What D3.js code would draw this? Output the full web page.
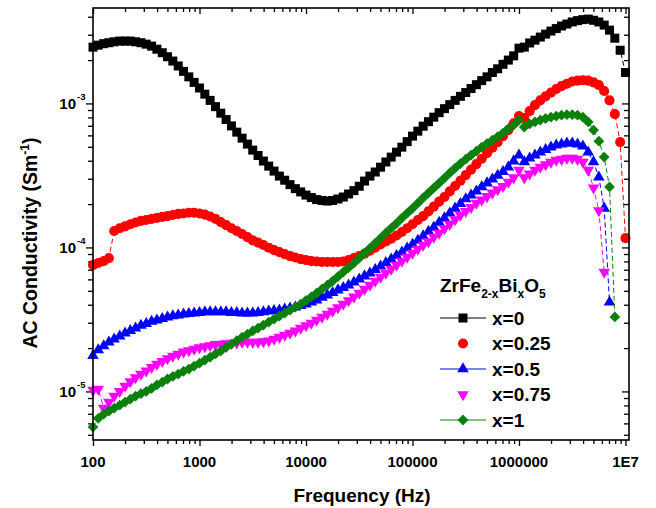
<!DOCTYPE html>
<html><head><meta charset="utf-8">
<script src="https://cdn.jsdelivr.net/npm/d3@7"></script>
<style>
body{margin:0;background:#fff}
svg{display:block}
text{font-family:Arial,"Liberation Sans",sans-serif;font-weight:bold;fill:#000}
</style>
</head><body>
<svg id="chart" width="656" height="508"></svg>
<script>
// ---------------- data ----------------
const frequencies = [100,112,126,141,158,178,200,224,251,282,316,355,398,447,501,562,631,708,794,891,
1000,1122,1259,1413,1585,1778,1995,2239,2512,2818,3162,3548,3981,4467,5012,5623,6310,7079,7943,8913,
10000,11220,12589,14125,15849,17783,19953,22387,25119,28184,31623,35481,39811,44668,50119,56234,63096,70795,79433,89125,
100000,112202,125893,141254,158489,177828,199526,223872,251189,281838,316228,354813,398107,446684,501187,562341,630957,707946,794328,891251,
1000000,1122018,1258925,1412538,1584893,1778279,1995262,2238721,2511886,2818383,3162278,3548134,3981072,4466836,5011872,5623413,6309573,7079458,7943282,8912509,
10000000];

const sigmaX0 = [2.46e-3,2.54e-3,2.60e-3,2.64e-3,2.68e-3,2.71e-3,2.71e-3,2.71e-3,2.68e-3,2.64e-3,
2.58e-3,2.50e-3,2.38e-3,2.25e-3,2.11e-3,1.97e-3,1.82e-3,1.67e-3,1.53e-3,1.40e-3,
1.28e-3,1.16e-3,1.05e-3,9.5e-4,8.56e-4,7.73e-4,6.98e-4,6.32e-4,5.74e-4,5.22e-4,
4.74e-4,4.35e-4,3.98e-4,3.67e-4,3.39e-4,3.13e-4,2.93e-4,2.73e-4,2.56e-4,2.43e-4,
2.31e-4,2.22e-4,2.15e-4,2.12e-4,2.10e-4,2.12e-4,2.17e-4,2.24e-4,2.35e-4,2.48e-4,
2.66e-4,2.89e-4,3.13e-4,3.34e-4,3.61e-4,3.92e-4,4.24e-4,4.59e-4,4.97e-4,5.43e-4,
5.93e-4,6.42e-4,6.95e-4,7.47e-4,8.03e-4,8.63e-4,9.20e-4,9.81e-4,1.05e-3,1.12e-3,
1.19e-3,1.27e-3,1.35e-3,1.44e-3,1.53e-3,1.64e-3,1.74e-3,1.87e-3,2.00e-3,2.14e-3,
2.42e-3,2.46e-3,2.63e-3,2.75e-3,2.89e-3,3.03e-3,3.18e-3,3.31e-3,3.45e-3,3.56e-3,
3.68e-3,3.76e-3,3.82e-3,3.85e-3,3.78e-3,3.68e-3,3.50e-3,3.23e-3,2.84e-3,2.34e-3,
1.64e-3];

const sigmaX025 = [7.54e-5,7.79e-5,8.04e-5,8.43e-5,1.30e-4,1.36e-4,1.40e-4,1.45e-4,1.49e-4,1.53e-4,
1.55e-4,1.58e-4,1.60e-4,1.63e-4,1.65e-4,1.68e-4,1.71e-4,1.72e-4,1.74e-4,1.74e-4,
1.72e-4,1.69e-4,1.64e-4,1.58e-4,1.50e-4,1.43e-4,1.36e-4,1.30e-4,1.24e-4,1.18e-4,
1.12e-4,1.08e-4,1.04e-4,9.96e-5,9.58e-5,9.28e-5,8.99e-5,8.71e-5,8.51e-5,8.30e-5,
8.17e-5,8.04e-5,7.98e-5,7.92e-5,7.92e-5,7.92e-5,7.92e-5,7.98e-5,8.17e-5,8.43e-5,
8.71e-5,9.06e-5,9.51e-5,9.96e-5,1.05e-4,1.10e-4,1.15e-4,1.21e-4,1.28e-4,1.36e-4,
1.45e-4,1.55e-4,1.65e-4,1.78e-4,1.92e-4,2.08e-4,2.24e-4,2.45e-4,2.67e-4,2.91e-4,
3.18e-4,3.47e-4,3.79e-4,4.13e-4,4.51e-4,4.93e-4,5.39e-4,5.93e-4,6.53e-4,7.29e-4,
8.17e-4,7.91e-4,8.84e-4,9.73e-4,1.05e-3,1.12e-3,1.19e-3,1.26e-3,1.32e-3,1.37e-3,
1.42e-3,1.44e-3,1.45e-3,1.44e-3,1.40e-3,1.34e-3,1.22e-3,1.05e-3,8.43e-4,5.39e-4,
1.16e-4];

const sigmaX05 = [1.77e-5,1.94e-5,2.07e-5,2.20e-5,2.31e-5,2.42e-5,2.54e-5,2.64e-5,2.75e-5,2.87e-5,
2.96e-5,3.06e-5,3.13e-5,3.20e-5,3.28e-5,3.34e-5,3.39e-5,3.44e-5,3.47e-5,3.50e-5,
3.53e-5,3.56e-5,3.56e-5,3.56e-5,3.56e-5,3.56e-5,3.53e-5,3.53e-5,3.50e-5,3.50e-5,
3.50e-5,3.53e-5,3.56e-5,3.61e-5,3.64e-5,3.67e-5,3.73e-5,3.79e-5,3.85e-5,3.94e-5,
4.04e-5,4.17e-5,4.31e-5,4.49e-5,4.67e-5,4.86e-5,5.06e-5,5.26e-5,5.47e-5,5.74e-5,
6.02e-5,6.33e-5,6.63e-5,7.01e-5,7.42e-5,7.85e-5,8.30e-5,8.78e-5,9.28e-5,9.88e-5,
1.05e-4,1.12e-4,1.20e-4,1.29e-4,1.38e-4,1.49e-4,1.60e-4,1.73e-4,1.87e-4,2.01e-4,
2.17e-4,2.31e-4,2.46e-4,2.63e-4,2.80e-4,2.98e-4,3.16e-4,3.36e-4,3.61e-4,3.98e-4,
4.38e-4,3.92e-4,4.17e-4,4.38e-4,4.59e-4,4.78e-4,4.97e-4,5.13e-4,5.22e-4,5.30e-4,
5.30e-4,5.22e-4,5.05e-4,4.59e-4,3.92e-4,3.08e-4,1.87e-4,4.17e-5];

const sigmaX075 = [1.02e-5,1.04e-5,7.65e-6,8.43e-6,9.27e-6,1.00e-5,1.09e-5,1.17e-5,1.25e-5,1.32e-5,
1.39e-5,1.47e-5,1.55e-5,1.62e-5,1.69e-5,1.76e-5,1.82e-5,1.88e-5,1.92e-5,1.97e-5,
2.02e-5,2.05e-5,2.08e-5,2.12e-5,2.13e-5,2.15e-5,2.17e-5,2.18e-5,2.20e-5,2.20e-5,
2.20e-5,2.20e-5,2.22e-5,2.25e-5,2.31e-5,2.38e-5,2.46e-5,2.54e-5,2.64e-5,2.75e-5,
2.87e-5,2.98e-5,3.13e-5,3.28e-5,3.44e-5,3.61e-5,3.82e-5,4.04e-5,4.28e-5,4.53e-5,
4.82e-5,5.14e-5,5.47e-5,5.84e-5,6.22e-5,6.63e-5,7.07e-5,7.54e-5,8.04e-5,8.57e-5,
9.13e-5,9.73e-5,1.04e-4,1.10e-4,1.18e-4,1.26e-4,1.35e-4,1.45e-4,1.56e-4,1.68e-4,
1.78e-4,1.90e-4,2.03e-4,2.14e-4,2.26e-4,2.39e-4,2.52e-4,2.66e-4,2.84e-4,3.05e-4,
3.44e-4,3.05e-4,3.25e-4,3.44e-4,3.61e-4,3.76e-4,3.91e-4,4.04e-4,4.10e-4,4.17e-4,
4.17e-4,4.10e-4,3.91e-4,3.44e-4,2.59e-4,1.80e-4,6.74e-5];

const sigmaX1 = [5.66e-6,6.51e-6,6.95e-6,7.29e-6,7.65e-6,8.03e-6,8.43e-6,8.84e-6,9.27e-6,9.65e-6,
1.00e-5,1.05e-5,1.11e-5,1.16e-5,1.22e-5,1.27e-5,1.32e-5,1.38e-5,1.43e-5,1.50e-5,
1.57e-5,1.65e-5,1.73e-5,1.82e-5,1.91e-5,2.02e-5,2.13e-5,2.25e-5,2.38e-5,2.50e-5,
2.63e-5,2.75e-5,2.89e-5,3.03e-5,3.18e-5,3.34e-5,3.50e-5,3.67e-5,3.85e-5,4.04e-5,
4.28e-5,4.53e-5,4.82e-5,5.14e-5,5.47e-5,5.84e-5,6.28e-5,6.74e-5,7.24e-5,7.79e-5,
8.43e-5,9.13e-5,9.88e-5,1.07e-4,1.16e-4,1.26e-4,1.36e-4,1.47e-4,1.60e-4,1.73e-4,
1.87e-4,2.03e-4,2.21e-4,2.39e-4,2.59e-4,2.80e-4,3.03e-4,3.29e-4,3.56e-4,3.82e-4,
4.10e-4,4.38e-4,4.66e-4,4.97e-4,5.26e-4,5.56e-4,5.88e-4,6.23e-4,6.65e-4,7.07e-4,
7.66e-4,6.86e-4,7.21e-4,7.44e-4,7.66e-4,7.86e-4,8.03e-4,8.17e-4,8.29e-4,8.36e-4,
8.36e-4,8.29e-4,8.03e-4,7.44e-4,6.53e-4,5.47e-4,4.24e-4,2.63e-4,3.29e-5];

const seriesNames = ["x=0","x=0.25","x=0.5","x=0.75","x=1"];
const seriesColors = ["#000000","#ff0000","#0000ff","#ff00ff","#0b800b"];
const xTickValues = [100,1000,10000,100000,1000000,10000000];
const xTickLabels = ["100","1000","10000","100000","1000000","1E7"];
const yTickValues = [1e-5,1e-4,1e-3];
const yTickExponents = ["-5","-4","-3"];

// ---------------- chart ----------------
const L = 93, R = 629, T = 8, B = 440;
const svg = d3.select("#chart");
const x = d3.scaleLog().domain([100, 1.079e7]).range([L, R]);
const y = d3.scaleLog().domain([4.6e-6, 4.6e-3]).range([B, T]);

const xMinor = [], yMinor = [];
for (let d = 2; d <= 6; d++) for (let k = 2; k <= 9; k++) xMinor.push(k * Math.pow(10, d));
for (let d = -6; d <= -3; d++) for (let k = 2; k <= 9; k++) {
  const v = k * Math.pow(10, d);
  if (v > 4.6e-6 && v < 4.6e-3) yMinor.push(v);
}

function axis(gen, tr) {
  const g = svg.append("g").attr("transform", tr).call(gen);
  g.select(".domain").remove();
  g.selectAll("line").attr("stroke", "#000").attr("stroke-width", 1.3);
  g.selectAll("text").remove();
  return g;
}
axis(d3.axisBottom(x).tickValues(xTickValues).tickSize(6), `translate(0,${B})`);
axis(d3.axisBottom(x).tickValues(xMinor).tickSize(4), `translate(0,${B})`);
axis(d3.axisTop(x).tickValues(xTickValues).tickSize(-6), `translate(0,${T})`);
axis(d3.axisTop(x).tickValues(xMinor).tickSize(-4), `translate(0,${T})`);
axis(d3.axisLeft(y).tickValues(yTickValues).tickSize(7), `translate(${L},0)`);
axis(d3.axisLeft(y).tickValues(yMinor).tickSize(5), `translate(${L},0)`);
axis(d3.axisRight(y).tickValues(yTickValues).tickSize(-7), `translate(${R},0)`);
axis(d3.axisRight(y).tickValues(yMinor).tickSize(-5), `translate(${R},0)`);

// tick labels
svg.append("g").selectAll("text").data(xTickValues).join("text")
  .attr("x", d => x(d)).attr("y", 467).attr("text-anchor", "middle")
  .attr("font-size", 15).text((d, i) => xTickLabels[i]);

const yl = svg.append("g");
yTickValues.forEach((v, i) => {
  yl.append("text").attr("x", 76).attr("y", y(v) + 5.5).attr("text-anchor", "end")
    .attr("font-size", 15).text("10");
  yl.append("text").attr("x", 77).attr("y", y(v) - 3).attr("text-anchor", "start")
    .attr("font-size", 9.5).attr("font-weight", "normal").text(yTickExponents[i]);
});

// axis titles
svg.append("text").attr("x", 362).attr("y", 502).attr("text-anchor", "middle")
  .attr("font-size", 19).text("Frequency (Hz)");
const yt = svg.append("text").attr("transform", "translate(37,243) rotate(-90)")
  .attr("text-anchor", "middle").attr("font-size", 19.5);
yt.append("tspan").text("AC Conductivity (Sm");
yt.append("tspan").attr("font-size", 12).attr("dy", -8).text("-1");
yt.append("tspan").attr("dy", 8).text(")");

// series
const allSeries = [sigmaX0, sigmaX025, sigmaX05, sigmaX075, sigmaX1];
const symbols = [
  {type: d3.symbolSquare, size: 81, rot: 0},
  {type: d3.symbolCircle, size: 80, rot: 0},
  {type: d3.symbolTriangle, size: 58, rot: 0},
  {type: d3.symbolTriangle, size: 58, rot: 180},
  {type: d3.symbolSquare, size: 58, rot: 45}
];
const line = d3.line().x(d => x(d.f)).y(d => y(d.v));
const plot = svg.append("g");
allSeries.forEach((vals, s) => {
  const pts = vals.map((v, i) => ({f: frequencies[i], v: v}));
  const g = plot.append("g");
  g.append("path").datum(pts).attr("d", line).attr("fill", "none")
    .attr("stroke", seriesColors[s]).attr("stroke-width", 1).attr("stroke-dasharray", "5,3");
  const sym = d3.symbol().type(symbols[s].type).size(symbols[s].size)();
  g.selectAll("path.m").data(pts).join("path").attr("class", "m")
    .attr("d", sym)
    .attr("transform", d => `translate(${x(d.f)},${y(d.v)}) rotate(${symbols[s].rot})`)
    .attr("fill", seriesColors[s]);
});

svg.append("rect").attr("x", L).attr("y", T).attr("width", R - L).attr("height", B - T)
  .attr("fill", "none").attr("stroke", "#000").attr("stroke-width", 1.6);

// legend
const lg = svg.append("g");
const title = lg.append("text").attr("x", 440).attr("y", 292).attr("font-size", 19);
title.append("tspan").text("ZrFe");
title.append("tspan").attr("font-size", 12).attr("dy", 6).text("2-x");
title.append("tspan").attr("dy", -6).text("Bi");
title.append("tspan").attr("font-size", 12).attr("dy", 6).text("x");
title.append("tspan").attr("dy", -6).text("O");
title.append("tspan").attr("font-size", 12).attr("dy", 6).text("5");
const legendLines = [true, false, true, false, true];
seriesNames.forEach((name, s) => {
  const cy = 318 + s * 25.5;
  if (legendLines[s]) lg.append("line").attr("x1", 440).attr("x2", 486).attr("y1", cy).attr("y2", cy)
    .attr("stroke", seriesColors[s]).attr("stroke-width", 1);
  lg.append("path").attr("d", d3.symbol().type(symbols[s].type).size(symbols[s].size)())
    .attr("transform", `translate(463,${cy}) rotate(${symbols[s].rot})`).attr("fill", seriesColors[s]);
  lg.append("text").attr("x", 492).attr("y", cy + 6.5).attr("font-size", 19).text(name);
});
</script>
</body></html>
